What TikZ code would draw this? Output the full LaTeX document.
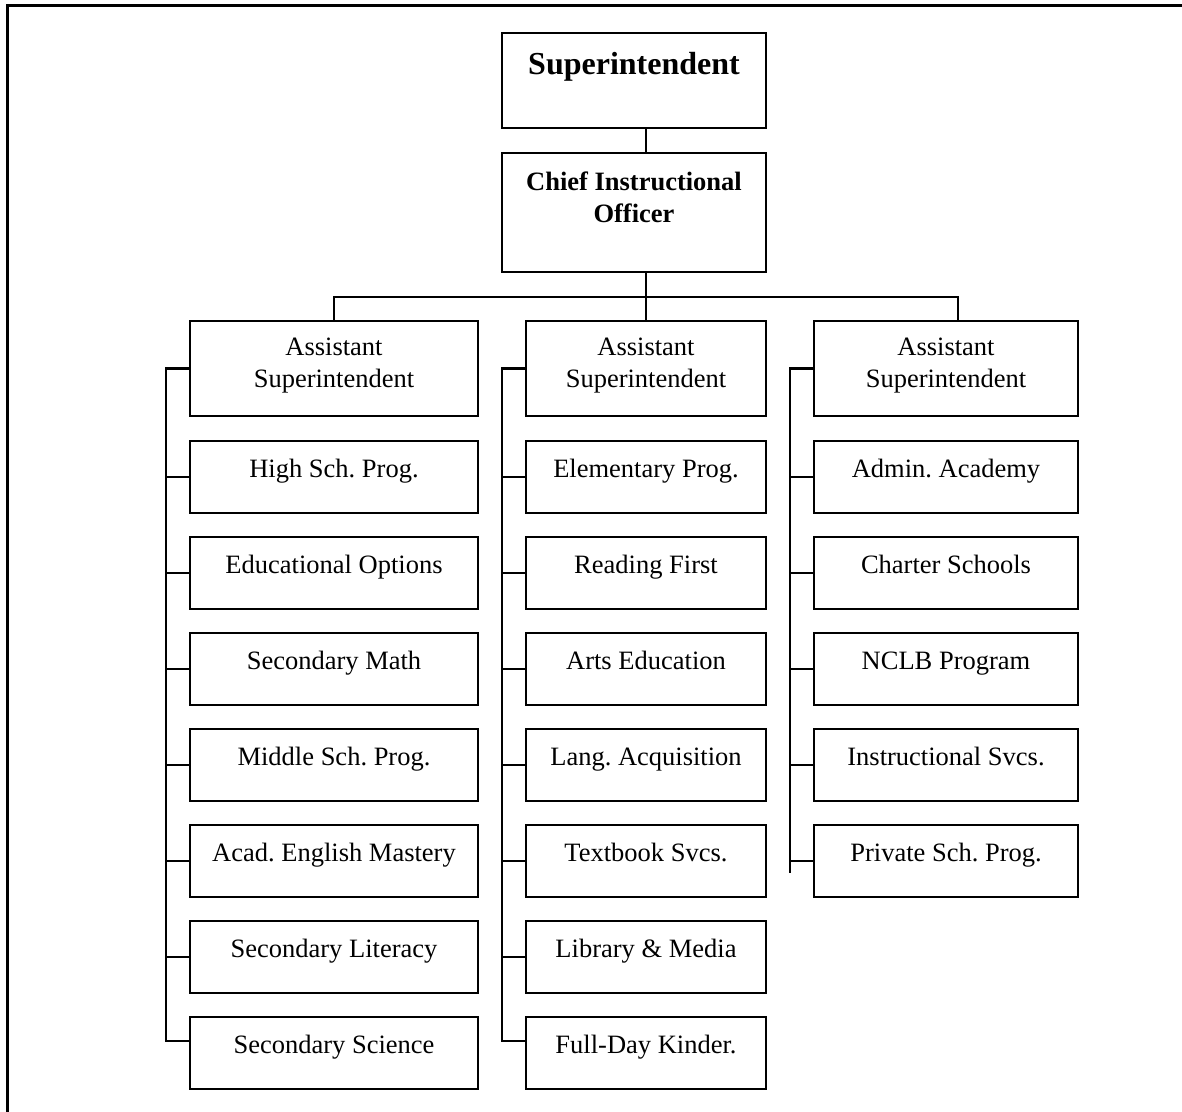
\documentclass[tikz,border=0pt]{standalone}
\usepackage{fontspec}
\setmainfont{Liberation Serif}
\usetikzlibrary{calc}
\frenchspacing

% name, x, y (north-west corner), width, height, baseline offset below top, text
\newcommand\orgbox[7]{%
  \node[unitbox, minimum width=#4*0.5pt, minimum height=#5*0.5pt] (#1) at (#2,#3) {};
  \node[lbl] (#1-t) at ($(#1.north)+(0,#6)$) {#7};
}
\newcommand\twolines[2]{\begin{tabular}[t]{@{}c@{}}#1\\#2\end{tabular}}

\begin{document}
\begin{tikzpicture}[x=0.5pt, y=-0.5pt,
  unitbox/.style={draw, line width=1.1pt, rectangle, anchor=north west,
    inner sep=0pt, outer sep=0pt, fill=white},
  lbl/.style={anchor=base, inner sep=0pt, align=center,
    font=\fontsize{13.25pt}{15.75pt}\selectfont},
  link/.style={line width=1pt},
  frame/.style={line width=1.5pt}]

\useasboundingbox (0,0) rectangle (1182,1112);

% page frame (top and left rules)
\draw[frame] (1182,6) -- (7,6) -- (7,1112);

% executive boxes
\orgbox{super}{502}{33}{264}{95}{42}{\fontsize{16pt}{19pt}\selectfont\bfseries Superintendent}
\orgbox{chief}{502}{153}{264}{119}{38}{\bfseries\twolines{Chief Instructional}{Officer}}

% assistant superintendents
\orgbox{a1}{190}{321}{288}{95}{35}{\twolines{Assistant}{Superintendent}}
\orgbox{a2}{526}{321}{240}{95}{35}{\twolines{Assistant}{Superintendent}}
\orgbox{a3}{814}{321}{264}{95}{35}{\twolines{Assistant}{Superintendent}}

% first division
\orgbox{hs}{190}{441}{288}{72}{36}{High Sch. Prog.}
\orgbox{eo}{190}{537}{288}{72}{36}{Educational Options}
\orgbox{sm}{190}{633}{288}{72}{36}{Secondary Math}
\orgbox{ms}{190}{729}{288}{72}{36}{Middle Sch. Prog.}
\orgbox{ae}{190}{825}{288}{72}{36}{Acad. English Mastery}
\orgbox{sl}{190}{921}{288}{72}{36}{Secondary Literacy}
\orgbox{ss}{190}{1017}{288}{72}{36}{Secondary Science}

% second division
\orgbox{ep}{526}{441}{240}{72}{36}{Elementary Prog.}
\orgbox{rf}{526}{537}{240}{72}{36}{Reading First}
\orgbox{ar}{526}{633}{240}{72}{36}{Arts Education}
\orgbox{la}{526}{729}{240}{72}{36}{Lang. Acquisition}
\orgbox{tb}{526}{825}{240}{72}{36}{Textbook Svcs.}
\orgbox{lm}{526}{921}{240}{72}{36}{Library \& Media}
\orgbox{fk}{526}{1017}{240}{72}{36}{Full-Day Kinder.}

% third division
\orgbox{aa}{814}{441}{264}{72}{36}{Admin. Academy}
\orgbox{cs}{814}{537}{264}{72}{36}{Charter Schools}
\orgbox{nc}{814}{633}{264}{72}{36}{NCLB Program}
\orgbox{is}{814}{729}{264}{72}{36}{Instructional Svcs.}
\orgbox{ps}{814}{825}{264}{72}{36}{Private Sch. Prog.}

% top trunk
\draw[link] (super.south -| a2.north) -- (chief.north -| a2.north);
\draw[link] (chief.south -| a2.north) -- (a2.north);
\coordinate (busL) at ($(a1.north)+(0,-24)$);
\coordinate (busR) at ($(a3.north)+(12,-24)$);
\draw[link] (a1.north) -- (busL) -- (busR) -- (busR |- a3.north);

% first division spine
\draw[link] (a1.west) -- ++(-24,0) |- ($(ss.west)+(0,-12)$);
\foreach \b in {hs,eo,sm,ms,ae,sl} \draw[link] (\b.west) -- ++(-24,0);

% second division spine
\draw[link] (a2.west) -- ++(-24,0) |- ($(fk.west)+(0,-12)$);
\foreach \b in {ep,rf,ar,la,tb,lm} \draw[link] (\b.west) -- ++(-24,0);

% third division spine
\coordinate (end3) at ($(ps.west)+(-24,12)$);
\draw[link] (a3.west) -- ++(-24,0) -- (end3);
\foreach \b in {aa,cs,nc,is,ps} \draw[link] (\b.west) -- ++(-24,0);

\end{tikzpicture}
\end{document}
